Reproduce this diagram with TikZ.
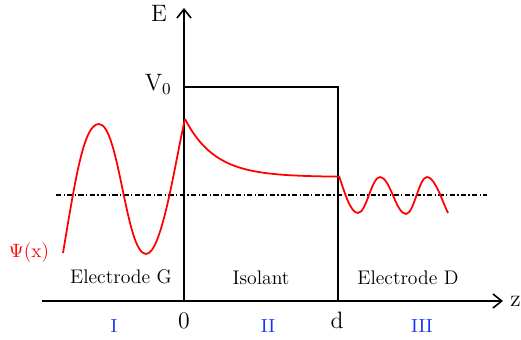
\documentclass[tikz,border=0pt]{standalone}
\usepackage{tikz}
\usetikzlibrary{positioning,arrows.meta,calc}
\definecolor{rojopsi}{HTML}{FF0000}
\definecolor{azulreg}{HTML}{1432FF}
\tikzset{
  eje/.style={line width=0.9pt, -{Straight Barb[length=5pt,width=8pt]}},
  barrera/.style={line width=0.8pt},
  nivel/.style={line width=0.8pt, dash pattern=on 3pt off 1.3pt on 0.8pt off 1.3pt},
  onda/.style={rojopsi, line width=1pt},
  etiq/.style={font=\fontsize{13.5}{15}\selectfont, inner sep=0pt},
  zona/.style={font=\fontsize{11.2}{13}\selectfont, inner sep=0pt},
  region/.style={azulreg, font=\fontsize{10.8}{12}\selectfont, inner sep=0pt},
}

\begin{document}
\begin{tikzpicture}[x=0.2mm, y=0.2mm]
    \useasboundingbox (0,0) rectangle (521,340);
    % Ejes
    \coordinate (O) at (184,39);
    \coordinate (zini) at (42,39);
    \coordinate (zfin) at (503,39);
    \coordinate (Etop) at (184,332);
    \draw[eje] (zini) -- (zfin);
    \draw[eje] (O) -- (Etop);
    \node[etiq, anchor=base] (E) at (159,318) {E};
    \node[etiq, anchor=base west] (z) at (510,33) {z};
    \node[etiq, anchor=base] (cero) at (184,11) {0};
    \node[etiq, anchor=base] (d) at (337,11) {d};
    % Barrera
    \coordinate (b1) at (184,253);
    \coordinate (b2) at (338,253);
    \coordinate (b3) at (338,39);
    \draw[barrera] (b1) -- (b2) -- (b3);
    \node[etiq, anchor=base east] (V0) at (172,249) {V\textsubscript{0}};
    % Nivel de energia
    \coordinate (nivi) at (56,145);
    \coordinate (nivd) at (487,145);
    \draw[nivel] (nivi) -- (nivd);
    % Funcion de onda
    \draw[onda] (63,87) .. controls (76,165) and (84,216) .. (99,216)
      .. controls (119,216) and (126,86) .. (146,86)
      .. controls (162,86) and (175,178) .. (185,221);
    \draw[onda] plot[domain=185:339, samples=60] (\x, {163+58*exp(-(\x-185)/30)});
    \draw[onda] (339,164) .. controls (344,150) and (350,127) .. (358,127)
      .. controls (366.5,127) and (371.5,163) .. (380,163)
      .. controls (390,163) and (396,126) .. (406,126)
      .. controls (414,126) and (419,163) .. (427,163)
      .. controls (435,163) and (443,137) .. (448,127);
    \node[zona, rojopsi, anchor=base] (psi) at (29,82) {$\Psi$(x)};
    % Zonas
    \node[zona, anchor=base] (elG) at (121,56) {Electrode G};
    \node[zona, anchor=base] (iso) at (261,55) {Isolant};
    \node[zona, anchor=base] (elD) at (408,55) {Electrode D};
    \node[region, anchor=base] (rI) at (114,7) {I};
    \node[region, anchor=base] (rII) at (268,7) {II};
    \node[region, anchor=base] (rIII) at (422,7) {III};
\end{tikzpicture}
\end{document}
